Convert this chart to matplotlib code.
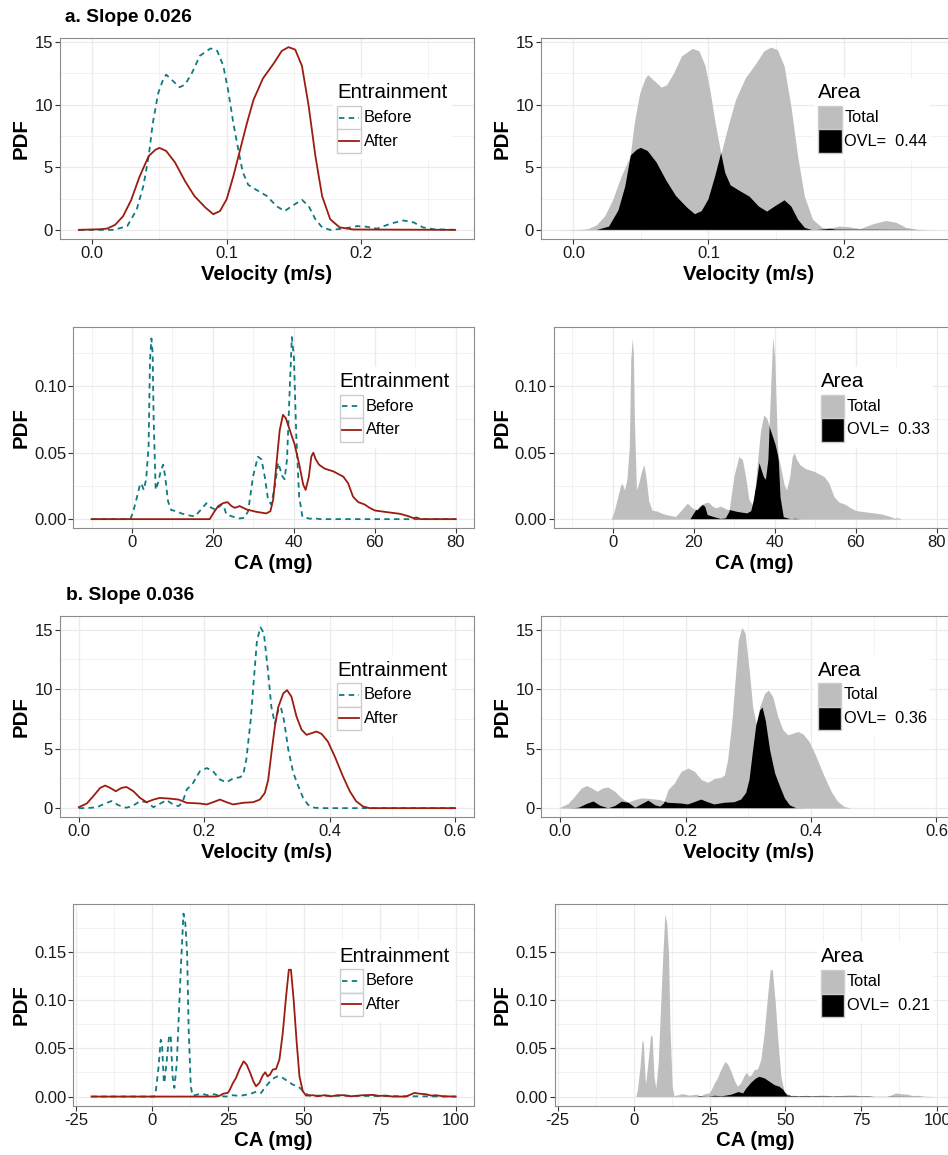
import numpy as np
import matplotlib
matplotlib.use("Agg")
import matplotlib.pyplot as plt
from matplotlib.path import Path
from matplotlib.patches import Rectangle
from matplotlib.lines import Line2D

plt.rcParams['font.family'] = ['Liberation Sans', 'DejaVu Sans']

# ---- slope 0.026, velocity ----
v1_before_x = [-0.01, 0.016, 0.026, 0.033, 0.038, 0.042, 0.045, 0.049, 0.053, 0.055, 0.060, 0.065,
               0.069, 0.074, 0.080, 0.088, 0.093, 0.0975, 0.101, 0.105, 0.109, 0.112, 0.116, 0.122,
               0.130, 0.137, 0.143, 0.150, 0.156, 0.161, 0.166, 0.171, 0.177, 0.187, 0.197, 0.204,
               0.212, 0.222, 0.2315, 0.239, 0.246, 0.254, 0.27]
v1_before_y = [0, 0, 0.3, 1.6, 3.5, 5.9, 8.5, 10.9, 12.1, 12.4, 11.9, 11.4,
               11.6, 12.5, 13.9, 14.5, 14.3, 13.1, 11.2, 8.5, 6.2, 4.6, 3.6, 3.2,
               2.7, 1.9, 1.5, 2.0, 2.4, 1.9, 0.85, 0.2, 0, 0.1, 0.3, 0.25,
               0.1, 0.5, 0.75, 0.6, 0.2, 0.05, 0]
v1_after_x = [-0.01, 0.006, 0.011, 0.017, 0.023, 0.029, 0.035, 0.042, 0.047, 0.050, 0.055, 0.0615,
              0.069, 0.076, 0.084, 0.090, 0.095, 0.100, 0.105, 0.110, 0.115, 0.120, 0.127, 0.135,
              0.141, 0.146, 0.151, 0.156, 0.161, 0.166, 0.171, 0.177, 0.184, 0.194, 0.27]
v1_after_y = [0, 0.05, 0.1, 0.4, 1.1, 2.4, 4.2, 5.9, 6.4, 6.55, 6.3, 5.4,
              3.9, 2.7, 1.8, 1.25, 1.5, 2.45, 4.3, 6.4, 8.5, 10.4, 12.1, 13.3,
              14.3, 14.6, 14.4, 13.1, 9.9, 5.9, 2.7, 0.85, 0.2, 0.03, 0]

# ---- slope 0.026, CA ----
c1_before_x = [-10, -0.4, 0.25, 1.1, 1.9, 2.3, 2.9, 3.5, 4.1, 4.45, 4.8, 5.1, 5.35, 5.85, 6.4, 7.1,
               7.7, 8.2, 8.9, 9.7, 11.0, 12.2, 13.8, 15.5, 16.7, 18.4, 19.6, 20.8, 22.1, 22.7, 23.3,
               25.0, 26.6, 27.8, 28.7, 29.9, 31.1, 32.0, 32.8, 33.6, 34.4, 35.3, 36.1, 37.2, 37.7,
               38.3, 39.0, 39.5, 40.0, 40.6, 41.3, 42.1, 43.9, 45.1, 46.4, 80]
c1_before_y = [0, 0, 0.005, 0.015, 0.025, 0.027, 0.022, 0.030, 0.055, 0.12, 0.136, 0.125, 0.075, 0.022,
               0.027, 0.036, 0.041, 0.032, 0.0135, 0.0068, 0.006, 0.0043, 0.003, 0.002, 0.006, 0.012,
               0.0085, 0.007, 0.011, 0.0098, 0.0035, 0.0018, 0.0005, 0.001, 0.006, 0.032, 0.047, 0.045,
               0.032, 0.015, 0.011, 0.025, 0.0425, 0.032, 0.030, 0.045, 0.10, 0.137, 0.122, 0.062,
               0.017, 0.0018, 0.0003, 0.0007, 0, 0]
c1_after_x = [-10, 19.2, 20.2, 21.3, 22.5, 23.6, 24.6, 25.4, 26.6, 28.3, 30.7, 33.2, 34.2, 34.9, 35.7,
              36.5, 37.3, 38.0, 39.0, 40.2, 41.4, 42.3, 42.9, 43.7, 44.3, 44.8, 45.4, 46.2, 47.6,
              49.7, 52.2, 53.4, 54.6, 55.9, 57.5, 58.7, 60.0, 62.9, 66.2, 68.2, 69.5, 70.3, 71.3, 80]
c1_after_y = [0, 0, 0.005, 0.0098, 0.012, 0.0128, 0.0098, 0.0085, 0.0098, 0.0073, 0.0055, 0.0043,
              0.006, 0.015, 0.042, 0.067, 0.0785, 0.076, 0.067, 0.056, 0.040, 0.026, 0.022, 0.032,
              0.047, 0.050, 0.045, 0.041, 0.038, 0.036, 0.032, 0.027, 0.017, 0.0128, 0.011, 0.0085,
              0.0065, 0.0053, 0.004, 0.0023, 0.0008, 0.0012, 0, 0]

# ---- slope 0.036, velocity ----
v2_before_x = [0, 0.0127, 0.029, 0.042, 0.0525, 0.063, 0.076, 0.087, 0.0976, 0.108, 0.119, 0.129,
               0.140, 0.151, 0.159, 0.165, 0.172, 0.182, 0.193, 0.204, 0.214, 0.225, 0.2355, 0.246,
               0.257, 0.262, 0.267, 0.274, 0.279, 0.284, 0.2896, 0.295, 0.302, 0.307, 0.3125, 0.318,
               0.322, 0.327, 0.334, 0.342, 0.350, 0.3576, 0.3655, 0.376, 0.389, 0.6]
v2_before_y = [0, 0, 0.08, 0.4, 0.6, 0.25, 0.03, 0.22, 0.59, 0.5, 0.08, 0.36,
               0.67, 0.28, 0.17, 0.45, 1.56, 2.1, 3.1, 3.37, 3.1, 2.4, 2.17, 2.5,
               2.6, 2.8, 4.07, 7.4, 10.8, 14.1, 15.2, 14.7, 11.3, 8.5, 7.1, 8.25,
               8.5, 7.4, 4.9, 2.95, 1.84, 0.86, 0.28, 0.03, 0, 0]
v2_after_x = [0, 0.0127, 0.023, 0.034, 0.042, 0.050, 0.059, 0.068, 0.076, 0.087, 0.0976, 0.108,
              0.119, 0.129, 0.145, 0.159, 0.172, 0.193, 0.204, 0.214, 0.225, 0.2355, 0.246, 0.262,
              0.278, 0.2886, 0.2966, 0.302, 0.307, 0.3125, 0.318, 0.326, 0.332, 0.339, 0.347, 0.355,
              0.363, 0.371, 0.379, 0.387, 0.397, 0.408, 0.421, 0.432, 0.442, 0.453, 0.4637, 0.6]
v2_after_y = [0.08, 0.39, 1.0, 1.7, 1.9, 1.7, 1.42, 1.7, 1.78, 1.42, 0.86, 0.5,
              0.72, 0.86, 0.8, 0.72, 0.45, 0.39, 0.31, 0.5, 0.72, 0.5, 0.31, 0.45,
              0.5, 0.72, 1.28, 2.4, 4.6, 6.86, 8.5, 9.65, 9.92, 9.37, 7.7, 6.6,
              6.16, 6.3, 6.44, 6.24, 5.6, 4.35, 2.68, 1.42, 0.59, 0.14, 0, 0]

# ---- slope 0.036, CA ----
c2_before_x = [-20, 0.7, 1.25, 2.1, 2.8, 3.2, 3.8, 4.0, 4.8, 5.6, 6.1, 6.7, 7.3, 8.1, 8.7, 9.5, 10.3,
               10.9, 11.5, 12.0, 12.7, 13.3, 14.4, 16.1, 18.3, 20.5, 22.1, 24.3, 26.5, 28.7, 32.0,
               34.4, 35.9, 37.0, 38.6, 40.2, 41.3, 43.0, 44.6, 46.3, 47.9, 49.0, 50.1, 51.8, 100]
c2_before_y = [0, 0, 0.0073, 0.031, 0.059, 0.056, 0.0176, 0.014, 0.038, 0.064, 0.0625, 0.021, 0.009,
               0.035, 0.08, 0.139, 0.19, 0.18, 0.149, 0.0695, 0.0107, 0.001, 0.0017, 0.003, 0.0014,
               0.0024, 0.0007, 0, 0.0014, 0.0007, 0.0024, 0.0052, 0.0038, 0.009, 0.0149, 0.0194,
               0.021, 0.0194, 0.016, 0.0124, 0.0107, 0.008, 0.0038, 0.001, 0]
c2_after_x = [-20, 21.0, 22.1, 23.4, 24.9, 25.6, 26.5, 27.6, 28.7, 30.1, 31.1, 32.2, 33.3, 34.2, 35.3,
              36.4, 37.2, 38.0, 38.8, 39.7, 40.8, 41.9, 43.0, 44.1, 45.0, 45.7, 46.6, 47.6, 48.5,
              49.6, 50.7, 52.9, 54.5, 56.7, 58.9, 61.1, 63.3, 65.5, 69.4, 72.7, 74.8, 77.0, 79.2,
              83.6, 86.4, 88.0, 90.2, 91.9, 93.5, 95.7, 100]
c2_after_y = [0, 0, 0.0007, 0.003, 0.0038, 0.0073, 0.0135, 0.0194, 0.028, 0.0366, 0.0332, 0.0252,
              0.0159, 0.0107, 0.0142, 0.0218, 0.0252, 0.021, 0.0228, 0.028, 0.0287, 0.0384, 0.066,
              0.104, 0.1317, 0.1317, 0.10, 0.0556, 0.021, 0.0055, 0.001, 0.0014, 0.0003, 0.0014,
              0.0003, 0.0014, 0.0014, 0.0003, 0.0014, 0.0017, 0.0007, 0.001, 0, 0, 0.0038, 0.003,
              0.0024, 0.001, 0.0014, 0.0003, 0]

ovl_labels = ['0.44', '0.33', '0.36', '0.21']

TEAL = '#0f7b80'
RED = '#9c1c10'
GREY_FILL = '#bebebe'

W, H = 948, 1155
fig = plt.figure(figsize=(W / 100, H / 100), dpi=100)


def box(l, r, t, b):
    return [l / W, 1 - b / H, (r - l) / W, (b - t) / H]


def style(ax, pos, xlim, ylim, xmaj, ymaj, xfmt, yfmt, xlabel, pdf_x):
    ax.set_xlim(xlim)
    ax.set_ylim(ylim)
    xmin = [(a + b) / 2 for a, b in zip(xmaj[:-1], xmaj[1:])]
    ymin = [(a + b) / 2 for a, b in zip(ymaj[:-1], ymaj[1:])]
    step = xmaj[1] - xmaj[0]
    xmin = [xmaj[0] - step / 2] + xmin + [xmaj[-1] + step / 2]
    for v in xmin:
        if xlim[0] < v < xlim[1]:
            ax.axvline(v, color='#ebebeb', lw=0.45, zorder=0)
    for v in ymin + [ymaj[-1] + (ymaj[1] - ymaj[0]) / 2]:
        if ylim[0] < v < ylim[1]:
            ax.axhline(v, color='#ebebeb', lw=0.45, zorder=0)
    for v in xmaj:
        ax.axvline(v, color='#ebebeb', lw=0.9, zorder=0)
    for v in ymaj:
        ax.axhline(v, color='#ebebeb', lw=0.9, zorder=0)
    ax.set_xticks(xmaj)
    ax.set_xticklabels([xfmt(v) for v in xmaj])
    ax.set_yticks(ymaj)
    ax.set_yticklabels([yfmt(v) for v in ymaj])
    ax.tick_params(length=3.6, width=0.8, color='#333333', labelsize=12,
                   labelcolor='#1a1a1a', pad=1.5)
    for s in ax.spines.values():
        s.set_color('#8c8c8c')
        s.set_linewidth(0.8)
    l, b, w, h = pos
    ax.set_xlabel(xlabel, fontsize=14.7, fontweight='bold', va='center')
    ax.xaxis.set_label_coords(0.5, -35 / (h * H))
    ax.set_ylabel('PDF', fontsize=14.7, fontweight='bold', va='center')
    ax.yaxis.set_label_coords((pdf_x - l * W) / (w * W), 0.5)


def legend(x0, ky, title, labels, kind, wbox):
    ks = 23.5
    fig.patches.append(Rectangle(((x0 - 4) / W, 1 - (ky + 2 * ks + 6) / H), wbox / W,
                                 (2 * ks + 34) / H, transform=fig.transFigure,
                                 facecolor='white', edgecolor='none', zorder=3))
    fig.text(x0 / W, 1 - (ky - 13) / H, title, fontsize=14.8, va='center', ha='left', zorder=4)
    for i, lab in enumerate(labels):
        top = ky + i * ks
        if kind == 'line':
            fig.patches.append(Rectangle((x0 / W, 1 - (top + ks) / H), ks / W, ks / H,
                                         transform=fig.transFigure, facecolor='white',
                                         edgecolor='#cccccc', lw=1.0, zorder=4))
            c = TEAL if i == 0 else RED
            ls = (0, (3, 2.4)) if i == 0 else '-'
            fig.lines.append(Line2D([(x0 + 2) / W, (x0 + ks - 2) / W],
                                    [1 - (top + ks / 2) / H] * 2, transform=fig.transFigure,
                                    color=c, lw=1.3, linestyle=ls, zorder=5))
        else:
            c = GREY_FILL if i == 0 else 'black'
            fig.patches.append(Rectangle((x0 / W, 1 - (top + ks) / H), ks / W, ks / H,
                                         transform=fig.transFigure, facecolor=c,
                                         edgecolor='#cccccc', lw=1.0, zorder=4))
        fig.text((x0 + ks + 3) / W, 1 - (top + ks / 2) / H, lab, fontsize=11.8,
                 va='center', ha='left', zorder=5)


def lines_panel(ax, bx, by, axx, ay):
    ax.plot(bx, by, color=TEAL, lw=1.3, linestyle=(0, (3, 2.4)), zorder=2)
    ax.plot(axx, ay, color=RED, lw=1.3, zorder=2)


def area_panel(ax, bx, by, axx, ay):
    ax.fill_between(bx, by, 0, color=GREY_FILL, lw=0, zorder=1)
    ax.fill_between(axx, ay, 0, color=GREY_FILL, lw=0, zorder=1)
    verts = [(axx[0], 0)] + list(zip(axx, ay)) + [(axx[-1], 0), (axx[0], 0)]
    clip = Path(verts, closed=True)
    ovl = ax.fill_between(bx, by, 0, color='black', lw=0, zorder=2)
    ovl.set_clip_path(clip, ax.transData)


fmt1 = lambda v: '%.1f' % v
fmt0 = lambda v: '%d' % v
fmt2 = lambda v: '%.2f' % v

panels = [
    (box(60, 474, 38, 239), box(541, 957, 38, 239),
     (v1_before_x, v1_before_y, v1_after_x, v1_after_y),
     (-0.024, 0.284), (-0.73, 15.33), [0.0, 0.1, 0.2], [0, 5, 10, 15], fmt1, fmt0,
     'Velocity (m/s)', (337, 106), (818, 106)),
    (box(73.3, 474, 327.3, 528.3), box(554, 955, 327.3, 528.3),
     (c1_before_x, c1_before_y, c1_after_x, c1_after_y),
     (-14.5, 84.5), (-0.0069, 0.1444), [0, 20, 40, 60, 80], [0.0, 0.05, 0.10], fmt0, fmt2,
     'CA (mg)', (339.5, 394.5), (820.5, 394.5)),
    (box(60, 474, 616, 817.3), box(541.3, 955.3, 616, 817.3),
     (v2_before_x, v2_before_y, v2_after_x, v2_after_y),
     (-0.03, 0.63), (-0.77, 16.15), [0.0, 0.2, 0.4, 0.6], [0, 5, 10, 15], fmt1, fmt0,
     'Velocity (m/s)', (337, 683), (817.5, 683)),
    (box(73.3, 474, 904, 1105.7), box(554.7, 955.4, 904, 1105.7),
     (c2_before_x, c2_before_y, c2_after_x, c2_after_y),
     (-26, 106), (-0.0095, 0.2), [-25, 0, 25, 50, 75, 100], [0.0, 0.05, 0.10, 0.15], fmt0, fmt2,
     'CA (mg)', (339.5, 969), (820.5, 970)),
]

for k, (bl, br, d, xl, yl, xm, ym, xf, yf, xlab, legl, legr) in enumerate(panels):
    axl = fig.add_axes(bl)
    style(axl, bl, xl, yl, xm, ym, xf, yf, xlab, 21)
    lines_panel(axl, *d)
    legend(legl[0], legl[1], 'Entrainment', ['Before', 'After'], 'line', 119)
    axr = fig.add_axes(br)
    style(axr, br, xl, yl, xm, ym, xf, yf, xlab, 502.5)
    area_panel(axr, *d)
    legend(legr[0], legr[1], 'Area', ['Total', 'OVL=  ' + ovl_labels[k]], 'fill', 116)

fig.text(65 / W, 1 - 17 / H, 'a. Slope 0.026', fontsize=13.8, fontweight='bold', va='center')
fig.text(66.5 / W, 1 - 595 / H, 'b. Slope 0.036', fontsize=13.8, fontweight='bold', va='center')

fig.savefig('out.png', dpi=100)
